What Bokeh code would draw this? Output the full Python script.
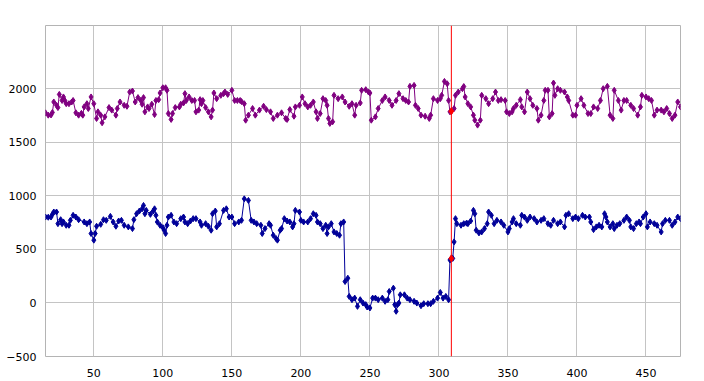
from bokeh.plotting import figure
from bokeh.models import Range1d, FixedTicker, Span
from bokeh.embed import file_html
from bokeh.resources import INLINE

# ---- data ----
purple_x = [15,17,19,20,21,23,24,25,27,28,29,30,32,34,35,37,39,41,42,43,45,46,48,50,52,53,55,56,58,61,
            63,66,67,69,72,74,76,78,80,82,84,85,86,87,89,90,92,94,95,97,98,100,102,103,104,106,107,109,112,113,
            115,116,117,119,121,123,124,126,127,128,129,131,133,135,136,137,139,142,144,145,147,150,152,154,156,157,159,160,162,165,
            167,170,173,175,178,180,183,186,189,190,192,195,196,199,201,203,205,207,209,211,212,214,216,218,219,220,221,223,224,227,
            230,232,235,237,239,240,243,244,247,249,250,251,254,256,259,261,264,266,269,271,274,276,278,279,282,283,285,287,290,293,
            294,296,299,301,302,304,306,307,308,309,311,312,314,317,318,319,321,323,325,326,328,330,331,334,336,339,341,343,345,348,
            349,351,353,354,356,359,360,362,364,366,368,371,372,374,376,377,379,380,382,383,384,386,388,391,393,394,397,399,400,403,
            405,408,410,412,415,417,419,422,424,426,427,430,432,434,436,439,441,444,446,447,450,452,454,456,458,461,463,465,467,469,
            471,473,475]
purple_y = [1775,1753,1755,1778,1876,1845,1824,1947,1890,1923,1890,1860,1860,1876,1890,1775,1753,1770,1753,1830,1860,1815,1923,1860,1722,1784,1753,1682,1737,1824,
            1800,1753,1815,1876,1845,1836,1969,1978,1876,1917,1890,1855,1917,1784,1830,1815,1855,1759,1890,1898,1960,2009,2009,1985,1768,1713,1768,1824,1830,1855,
            1867,1954,1890,1923,1890,1890,1784,1800,1898,1860,1890,1824,1784,1737,1800,1960,1907,1938,1954,1969,1947,1985,1890,1890,1890,1880,1860,1706,1753,1815,
            1753,1800,1836,1805,1784,1722,1753,1775,1722,1713,1805,1743,1830,1845,1923,1860,1830,1845,1876,1784,1722,1768,1907,1890,1845,1722,1676,1691,1938,1907,
            1923,1876,1836,1860,1753,1845,1867,1985,1991,1969,1960,1706,1737,1815,1890,1923,1890,1845,1890,1954,1907,1890,1876,2022,2031,1845,1815,1753,1743,1722,
            1753,1907,1890,1907,1938,2068,2046,1890,1784,1790,1815,1938,1969,2000,2020,1923,1860,1830,1753,1706,1660,1706,1938,1907,1860,1907,1969,1890,1898,1890,
            1784,1768,1784,1815,1845,1898,1830,1784,1969,1907,1845,1815,1706,1753,1890,1985,1985,1737,1768,2053,1938,2000,1985,1969,1923,1890,1753,1753,1845,1907,
            1845,1768,1768,1830,1815,1890,2000,2022,1753,1722,1985,1890,1800,1890,1890,1845,1815,1753,1830,1938,1923,1907,1890,1753,1800,1800,1784,1815,1768,1722,
            1753,1876,1830]

blue_x = [15,17,19,20,21,23,24,26,27,28,30,32,33,35,37,39,43,45,47,48,50,51,52,55,57,59,62,64,66,68,
          70,72,75,78,79,81,83,85,86,87,88,91,93,94,95,96,98,100,101,102,103,104,106,108,110,113,115,116,118,120,
          122,124,127,128,131,133,135,136,138,139,141,144,146,148,150,152,155,157,159,162,164,166,168,171,172,174,177,178,180,182,
          183,185,186,188,190,192,194,195,196,199,200,202,205,207,209,211,212,214,216,218,219,220,222,224,226,228,229,231,232,234,
          235,237,239,241,243,245,247,248,250,252,254,256,259,261,263,264,267,268,269,270,271,272,275,277,279,282,284,287,289,292,
          294,296,299,301,303,305,307,308,309,310,311,312,313,316,318,320,321,323,325,326,327,329,331,333,335,336,338,340,342,345,
          347,350,351,353,354,356,359,360,362,364,366,369,371,374,376,379,381,383,386,388,391,392,394,397,399,401,404,406,409,410,
          412,414,416,418,420,421,422,424,426,427,429,431,434,436,438,439,441,443,445,446,448,450,451,453,456,458,461,462,464,467,
          469,471,473,475]
blue_y = [802,800,802,827,849,849,740,777,740,756,725,725,771,818,802,777,756,740,756,648,586,648,716,734,777,771,808,756,716,765,
          771,725,710,694,777,833,858,879,910,833,864,827,858,879,818,756,725,703,679,648,725,802,818,756,740,787,802,756,740,765,
          787,787,756,725,740,716,679,833,858,710,740,864,879,802,802,740,756,771,972,957,771,756,740,725,648,694,740,725,632,601,
          586,679,694,787,765,756,710,740,864,849,771,756,756,787,833,818,756,740,694,725,648,710,740,663,648,632,740,756,200,231,
          61,30,45,-32,30,-1,-16,-38,-47,45,45,30,45,15,30,107,138,-16,-78,-16,-1,76,76,45,30,15,-1,-26,-7,-7,
          -7,15,45,98,45,61,30,401,416,416,570,787,740,725,740,745,740,765,864,833,679,654,663,694,740,849,818,740,771,756,
          725,663,694,756,787,740,725,818,802,771,802,787,756,771,787,740,725,771,740,756,710,818,833,787,802,787,818,802,802,756,
          685,710,725,710,833,802,756,710,740,694,725,740,771,802,771,710,694,740,756,740,802,833,710,756,740,725,663,740,771,771,
          725,756,802,787]

marker_x = 309
marker_y = [1790, 416]

x_ticks = [50, 100, 150, 200, 250, 300, 350, 400, 450]
y_ticks = [-500, 0, 500, 1000, 1500, 2000]

PURPLE = "#800080"
BLUE = "#000099"
GRID = "#c4c4c4"

p = figure(width=704, height=381, output_backend="svg", toolbar_location=None,
           x_range=Range1d(15, 475), y_range=Range1d(-500, 2590),
           min_border_left=45, min_border_right=24, min_border_top=25, min_border_bottom=25)

p.line(purple_x, purple_y, color=PURPLE, line_width=1)
p.scatter(purple_x, purple_y, marker="diamond", size=6, color=PURPLE)
p.line(blue_x, blue_y, color=BLUE, line_width=1)
p.scatter(blue_x, blue_y, marker="diamond", size=6, color=BLUE)

p.add_layout(Span(location=marker_x, dimension="height", line_color="red", line_width=1))
p.scatter([marker_x, marker_x], marker_y, marker="diamond", size=7, color="red")

p.xaxis.ticker = FixedTicker(ticks=x_ticks)
p.yaxis.ticker = FixedTicker(ticks=y_ticks)
for ax in (p.xaxis, p.yaxis):
    ax.axis_line_color = None
    ax.major_tick_line_color = None
    ax.minor_tick_line_color = None
    ax.major_label_text_font = "DejaVu Sans"
    ax.major_label_text_font_size = "11px"
    ax.major_label_text_color = "#000000"
p.xaxis.major_label_standoff = 6
p.yaxis.major_label_standoff = 3

p.xgrid.grid_line_color = GRID
p.ygrid.grid_line_color = GRID
p.outline_line_color = "#b4b4b4"
p.background_fill_color = "white"
p.border_fill_color = "white"

open("out.html", "w").write(file_html(p, INLINE))
